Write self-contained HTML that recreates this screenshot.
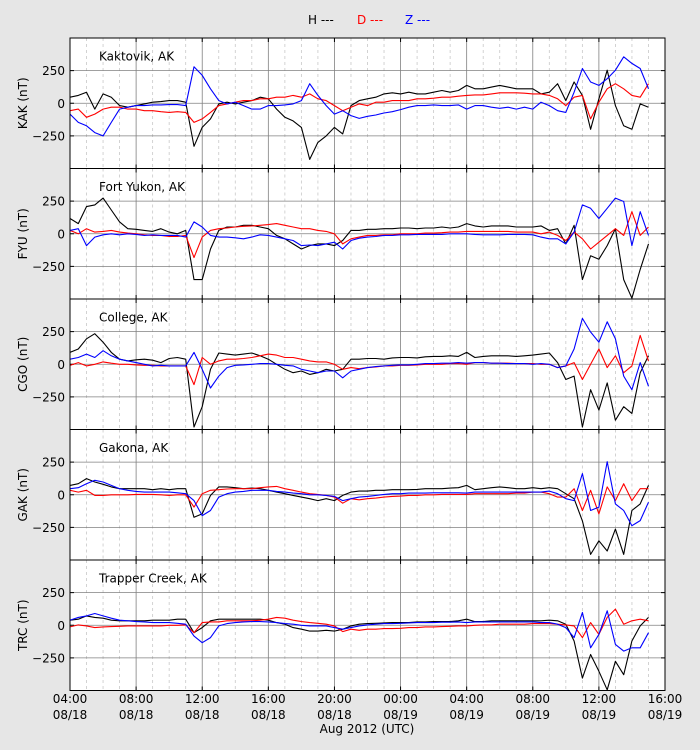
<!DOCTYPE html>
<html><head><meta charset="utf-8"><style>
html,body{margin:0;padding:0;background:#e6e6e6;}
svg{display:block;font-family:"DejaVu Sans","Liberation Sans",sans-serif;}
</style></head><body>
<svg id="chart" width="700" height="750" viewBox="0 0 700 750" xmlns="http://www.w3.org/2000/svg">
<rect x="0" y="0" width="700" height="750" fill="#e6e6e6"/>
<g font-size="12">
<text x="308" y="24" fill="#000">H ---</text>
<text x="357" y="24" fill="#ff0000">D ---</text>
<text x="405" y="24" fill="#0000ff">Z ---</text>
</g>
<g id="panels"></g>
<g id="xaxis"></g>
<text x="367" y="733" text-anchor="middle" font-size="12">Aug 2012 (UTC)</text>
</svg>
<script>
const stations = ["Kaktovik, AK","Fort Yukon, AK","College, AK","Gakona, AK","Trapper Creek, AK"];
const codes = ["KAK","FYU","CGO","GAK","TRC"];
const xTickTimes = ["04:00","08:00","12:00","16:00","20:00","00:00","04:00","08:00","12:00","16:00"];
const xTickDates = ["08/18","08/18","08/18","08/18","08/18","08/19","08/19","08/19","08/19","08/19"];
const yTicks = [250,0,-250];
const timeStep = 0.5; // hours from 04:00 08/18

const kakH=[46,60,85,-45,72,46,-18,-30,-18,-5,8,13,20,20,8,-330,-185,-120,-5,8,-5,8,20,46,34,-45,-108,-135,-185,-430,-300,-250,-185,-235,-18,20,34,46,72,80,72,85,72,72,85,98,85,98,137,111,111,124,137,124,111,111,111,72,85,150,20,163,60,-200,34,253,-18,-173,-200,-5,-30];
const kakD=[-57,-45,-108,-83,-45,-30,-30,-45,-45,-57,-57,-65,-70,-65,-70,-147,-120,-70,-18,-5,8,20,20,34,34,46,46,60,46,72,34,20,-18,-57,-30,-5,-18,8,8,20,20,20,34,34,39,46,46,54,60,64,64,72,80,80,80,77,72,72,60,34,-18,46,60,-120,8,111,150,111,60,46,150];
const kakZ=[-83,-147,-173,-225,-250,-147,-45,-30,-18,-18,-13,-13,-10,-10,-18,279,214,111,20,-5,8,-18,-45,-45,-18,-18,-13,-5,20,150,60,-18,-83,-57,-95,-116,-100,-90,-75,-65,-49,-30,-18,-18,-13,-18,-18,-13,-45,-18,-18,-30,-39,-30,-45,-30,-45,8,-18,-57,-70,85,266,163,137,188,253,356,305,266,111];
const fyuH=[117,78,208,221,273,182,91,39,34,26,18,39,13,0,26,-351,-351,-117,26,52,52,65,65,52,39,-13,-39,-78,-117,-91,-78,-78,-91,-52,26,26,34,34,39,39,44,44,39,44,44,52,44,52,78,60,52,60,60,60,52,52,52,60,26,39,-78,65,-351,-169,-195,-91,39,-351,-494,-273,-78];
const fyuD=[26,0,39,13,18,26,13,5,0,-8,-13,-13,-21,-21,-13,-182,-26,26,39,44,52,57,60,65,70,78,65,52,39,39,26,18,0,-78,-39,-26,-13,-13,-8,-8,0,0,0,5,5,8,13,13,18,18,18,18,18,18,13,13,13,0,13,-13,-52,13,-39,-117,-65,-13,39,-13,169,-13,52];
const fyuZ=[26,39,-91,-26,-8,0,-8,0,-5,-13,-8,-13,-13,-13,-26,91,52,-13,-26,-26,-31,-39,-26,-8,-13,-26,-39,-52,-91,-86,-91,-78,-65,-117,-52,-34,-26,-21,-13,-13,-8,-8,-5,-5,-5,-5,0,0,0,-5,-8,-8,-8,-5,-5,-5,-8,-26,-39,-39,-78,13,221,195,117,195,273,247,-91,169,-13];
const cgoH=[91,117,195,234,169,91,39,26,34,39,31,13,44,52,39,-481,-325,-39,86,78,70,78,86,65,39,0,-39,-65,-52,-78,-65,-39,-52,-39,39,39,44,44,39,49,52,52,49,57,60,60,65,60,91,52,60,65,65,65,60,65,70,78,86,13,-117,-91,-481,-195,-351,-143,-429,-325,-377,-65,65];
const cgoD=[-8,13,-13,0,18,8,0,0,-5,-8,-8,-13,-13,-13,-13,-156,52,0,26,39,39,44,52,65,78,70,52,52,39,26,18,18,0,-39,-26,-34,-26,-21,-13,-13,-8,-8,-5,0,0,0,5,5,0,13,13,8,8,8,5,5,5,0,0,-26,-13,13,-117,0,117,-26,65,-65,-13,221,26];
const cgoZ=[39,52,78,52,104,65,39,26,13,0,-13,-8,-13,-13,-13,91,-39,-182,-91,-26,-8,-5,0,5,5,0,-8,-13,-39,-52,-65,-52,-52,-104,-52,-39,-26,-18,-13,-8,-5,-5,0,5,5,8,8,13,8,13,13,8,8,5,5,5,0,5,0,-26,-13,117,351,247,169,325,195,-91,-195,13,-169];
const gakH=[72,85,124,98,80,60,46,46,46,46,39,46,39,46,46,-173,-147,-5,60,60,54,46,51,46,34,20,8,-5,-18,-30,-45,-30,-45,-5,20,28,28,34,34,39,39,39,41,46,46,46,51,54,72,39,46,54,60,54,46,46,54,46,54,46,8,-30,-200,-457,-353,-431,-263,-457,-121,-70,72];
const gakD=[34,20,34,-5,-5,0,0,0,3,3,3,0,-5,0,0,-95,8,34,39,44,46,46,46,54,60,64,46,34,20,8,3,-5,-18,-65,-30,-39,-30,-26,-18,-13,-10,-5,-5,0,0,3,3,3,3,8,8,8,8,8,13,13,20,20,8,-18,-18,46,-121,34,-147,60,-45,85,-45,46,46];
const gakZ=[46,54,85,111,98,72,46,34,26,20,20,20,20,15,8,-45,-160,-121,-18,8,20,26,34,34,34,26,20,13,8,0,0,-5,-13,-45,-30,-18,-13,-5,3,8,8,13,13,13,15,15,15,15,13,20,20,20,20,20,20,20,20,20,28,8,-30,-45,162,-121,-95,253,-70,-121,-237,-198,-57];
const trcH=[39,46,72,60,54,39,34,34,34,34,39,39,39,46,46,-57,-18,34,46,46,46,46,46,46,39,20,8,-18,-30,-45,-45,-39,-45,-30,-5,8,13,15,18,20,20,20,26,26,28,28,28,34,46,28,28,34,34,34,34,34,34,34,39,34,8,-121,-405,-224,-353,-495,-276,-379,-121,-5,60];
const trcD=[-13,3,-5,-18,-13,-10,-8,-5,-5,-5,-5,-5,0,0,3,-57,20,26,26,34,34,34,34,39,46,60,54,39,28,20,15,8,-5,-49,-30,-39,-30,-30,-26,-26,-23,-18,-18,-13,-13,-10,-8,-5,-5,0,3,3,8,8,8,8,13,13,13,8,3,-5,-95,20,-70,60,124,8,34,46,34];
const trcZ=[39,60,72,90,72,54,39,34,28,26,20,20,20,15,8,-83,-134,-95,-5,13,20,26,28,28,26,20,13,8,0,-5,-5,-5,-18,-30,-18,-5,3,8,13,13,15,18,20,20,20,23,23,26,20,26,26,26,26,26,26,26,26,20,20,8,-18,-95,98,-173,-70,111,-147,-198,-173,-173,-57];

const series = [[kakH,kakD,kakZ],[fyuH,fyuD,fyuZ],[cgoH,cgoD,cgoZ],[gakH,gakD,gakZ],[trcH,trcD,trcZ]];
const seriesNames = ["h","d","z"];
const colors = ["#000000","#ff0000","#0000ff"];

const NS="http://www.w3.org/2000/svg";
const X0=70, X1=665, HOURS=36;
const tops=[38,168.5,299,429.5,560], PH=130.5;
function xScale(h){return X0+(h/HOURS)*(X1-X0);}
function yScale(p,v){return tops[p]+PH/2 - v*(PH/1000);}
function mk(tag,attrs,parent){const e=document.createElementNS(NS,tag);for(const k in attrs)e.setAttribute(k,attrs[k]);parent.appendChild(e);return e;}

const panels=document.getElementById('panels');
for(let p=0;p<5;p++){
  const g=mk('g',{},panels);
  
  
  const T=tops[p];
  mk('rect',{x:X0,y:T,width:X1-X0,height:PH,fill:'#fff'},g);
  const cp=mk('clipPath',{id:'cp'+p},g);
  mk('rect',{x:X0,y:T,width:X1-X0,height:PH},cp);
  for(let h=1;h<HOURS;h++){
    if(h%4===0)continue;
    const x=xScale(h);
    mk('line',{x1:x,x2:x,y1:T,y2:T+PH,stroke:'#c8c8c8','stroke-width':0.8,'stroke-dasharray':'3,3'},g);
  }
  for(let h=4;h<HOURS;h+=4){
    const x=xScale(h);
    mk('line',{x1:x,x2:x,y1:T,y2:T+PH,stroke:'#808080','stroke-width':0.8},g);
  }
  yTicks.forEach(v=>{
    const y=yScale(p,v);
    mk('line',{x1:X0,x2:X1,y1:y,y2:y,stroke:'#808080','stroke-width':0.8},g);
    mk('line',{x1:X0,x2:X0+4,y1:y,y2:y,stroke:'#000'},g);
    mk('line',{x1:X1-4,x2:X1,y1:y,y2:y,stroke:'#000'},g);
    const t=mk('text',{x:X0-5,y:y+4.5,'text-anchor':'end','font-size':12},g);
    t.textContent=(v<0?'\u2212'+(-v):String(v));
    
    
  });
  const yt=mk('text',{x:0,y:0,'text-anchor':'middle','font-size':12,transform:`translate(27,${T+PH/2}) rotate(-90)`},g);
  yt.textContent=codes[p]+' (nT)';
  
  
  const sl=mk('text',{x:99,y:T+22.5,'font-size':12},g);
  sl.textContent=stations[p];
  
  
  const lg=mk('g',{'clip-path':`url(#cp${p})`},g);
  series[p].forEach((arr,s)=>{
    const pts=arr.map((v,i)=>xScale(i*timeStep).toFixed(1)+','+yScale(p,v).toFixed(1)).join(' ');
    const pl=mk('polyline',{points:pts,fill:'none',stroke:colors[s],'stroke-width':1.1,'stroke-linejoin':'round'},lg);
    
    
  });
  for(let h=4;h<HOURS;h+=4){
    const x=xScale(h);
    mk('line',{x1:x,x2:x,y1:T+PH-4,y2:T+PH,stroke:'#000'},g);
    mk('line',{x1:x,x2:x,y1:T,y2:T+4,stroke:'#000'},g);
  }
  mk('rect',{x:X0,y:T,width:X1-X0,height:PH,fill:'none',stroke:'#000','stroke-width':1},g);
}
const xa=document.getElementById('xaxis');
xTickTimes.forEach((t,i)=>{
  const x=xScale(i*4);
  const a=mk('text',{x:x,y:703,'text-anchor':'middle','font-size':12},xa);
  a.textContent=t;
  
  
  const b=mk('text',{x:x,y:719,'text-anchor':'middle','font-size':12},xa);
  b.textContent=xTickDates[i];
  
  
});
</script>
</body></html>
